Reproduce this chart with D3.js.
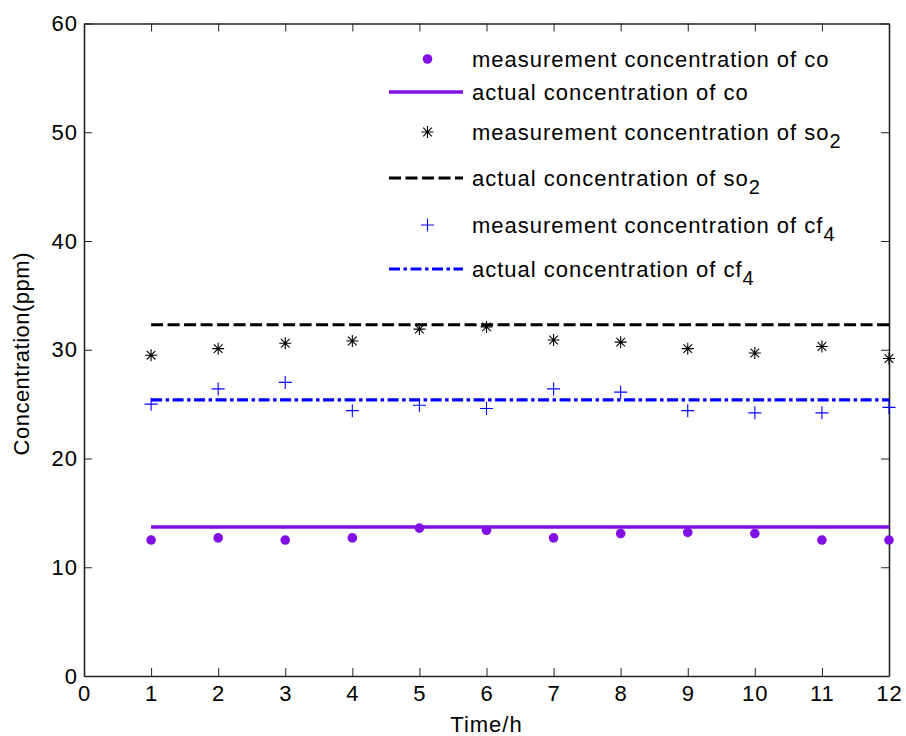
<!DOCTYPE html>
<html>
<head>
<meta charset="utf-8">
<script src="https://cdn.jsdelivr.net/npm/d3@7"></script>
<style>
  html, body { margin: 0; padding: 0; background: #fff; }
  svg { display: block; }
  text { font-family: "Liberation Sans", Arial, Helvetica, sans-serif; fill: #000; letter-spacing: 1px; }
</style>
</head>
<body>
<div id="chart"></div>
<script>
// ---------- data ----------
const hours = [1, 2, 3, 4, 5, 6, 7, 8, 9, 10, 11, 12];
const coMeasured  = [12.5, 12.7, 12.5, 12.7, 13.6, 13.4, 12.7, 13.1, 13.2, 13.1, 12.5, 12.5];
const so2Measured = [29.5, 30.1, 30.6, 30.8, 31.9, 32.1, 30.9, 30.7, 30.1, 29.7, 30.3, 29.2];
const cf4Measured = [25.0, 26.4, 27.0, 24.4, 24.9, 24.6, 26.4, 26.1, 24.4, 24.2, 24.2, 24.7];
const coActual  = [13.7, 13.7];
const so2Actual = [32.3, 32.3];
const cf4Actual = [25.4, 25.4];
const actualSpan = [1, 12];
const xTicks = [0, 1, 2, 3, 4, 5, 6, 7, 8, 9, 10, 11, 12];
const yTicks = [0, 10, 20, 30, 40, 50, 60];
const legendLabels = [
  ["measurement concentration of co", ""],
  ["actual concentration of co", ""],
  ["measurement concentration of so", "2"],
  ["actual concentration of so", "2"],
  ["measurement concentration of cf", "4"],
  ["actual concentration of cf", "4"]
];
const xLabel = "Time/h";
const yLabel = "Concentration(ppm)";

// ---------- layout ----------
const W = 906, H = 736;
const pLeft = 84, pRight = 889, pTop = 23.5, pBottom = 676;
const purple = "#8010E6", black = "#000", blue = "#0000FF";
const FS = 22;

const svg = d3.select("#chart").append("svg").attr("width", W).attr("height", H);

const x = d3.scaleLinear().domain([0, 12]).range([pLeft, pRight]);
const y = d3.scaleLinear().domain([0, 60]).range([pBottom, pTop]);

// axes (inward ticks on all sides)
function styleAxis(g) {
  g.selectAll("path.domain").attr("stroke", "#222").attr("stroke-width", 1.6);
  g.selectAll(".tick line").attr("stroke", "#222").attr("stroke-width", 1);
  g.selectAll("text").attr("font-size", FS).attr("fill", "#000")
    .style("font-family", '"Liberation Sans", Arial, sans-serif');
}
svg.append("g").attr("transform", `translate(0,${pBottom})`)
  .call(d3.axisBottom(x).tickValues(xTicks).tickSizeInner(-8).tickSizeOuter(0).tickPadding(9).tickFormat(d3.format("d")))
  .call(styleAxis);
svg.append("g").attr("transform", `translate(0,${pTop})`)
  .call(d3.axisTop(x).tickValues(xTicks).tickSizeInner(-8).tickSizeOuter(0).tickFormat(""))
  .call(styleAxis);
svg.append("g").attr("transform", `translate(${pLeft},0)`)
  .call(d3.axisLeft(y).tickValues(yTicks).tickSizeInner(-8).tickSizeOuter(0).tickPadding(6).tickFormat(d3.format("d")))
  .call(styleAxis);
svg.append("g").attr("transform", `translate(${pRight},0)`)
  .call(d3.axisRight(y).tickValues(yTicks).tickSizeInner(-8).tickSizeOuter(0).tickFormat(""))
  .call(styleAxis);

// axis labels
svg.append("text").attr("x", (pLeft + pRight) / 2).attr("y", 732)
  .attr("text-anchor", "middle").attr("font-size", FS).text(xLabel);
svg.append("text").attr("transform", `translate(29,${(pTop + pBottom) / 2 + 4}) rotate(-90)`)
  .attr("text-anchor", "middle").attr("font-size", FS).style("letter-spacing", "0.5px").text(yLabel);

// ---------- marker shapes ----------
function asteriskPath(cx, cy, r) {
  const d = r * 0.72;
  return `M${cx - r},${cy}L${cx + r},${cy}M${cx},${cy - r}L${cx},${cy + r}` +
         `M${cx - d},${cy - d}L${cx + d},${cy + d}M${cx - d},${cy + d}L${cx + d},${cy - d}`;
}
function plusPath(cx, cy, r) {
  return `M${cx - r},${cy}L${cx + r},${cy}M${cx},${cy - r}L${cx},${cy + r}`;
}

const line = d3.line().x(d => x(d[0])).y(d => y(d[1]));

// actual lines
const actualSeries = [
  { v: so2Actual, color: black, dash: "12,4.5", w: 3 },
  { v: cf4Actual, color: blue, dash: "11,3.5,3.5,3.5", w: 3.2 },
  { v: coActual, color: purple, dash: null, w: 3.4 }
];
actualSeries.forEach(s => {
  svg.append("path")
    .attr("d", line(actualSpan.map((h, i) => [h, s.v[i]])))
    .attr("fill", "none").attr("stroke", s.color).attr("stroke-width", s.w)
    .attr("stroke-dasharray", s.dash);
});

// measured points
svg.append("g").selectAll("circle").data(hours).join("circle")
  .attr("cx", (d) => x(d)).attr("cy", (d, i) => y(coMeasured[i])).attr("r", 4.8).attr("fill", purple);
svg.append("g").selectAll("path").data(hours).join("path")
  .attr("d", (d, i) => asteriskPath(x(d), y(so2Measured[i]), 6))
  .attr("stroke", black).attr("stroke-width", 1.1).attr("fill", "none");
svg.append("g").selectAll("path").data(hours).join("path")
  .attr("d", (d, i) => plusPath(x(d), y(cf4Measured[i]), 6.5))
  .attr("stroke", blue).attr("stroke-width", 1.1).attr("fill", "none");

// ---------- legend ----------
const legendRowsY = [59, 92, 132, 178, 225, 269];
const lg = svg.append("g");
const lx0 = 389, lx1 = 463, lmx = 427.5, ltx = 472;
legendRowsY.forEach((ry, i) => {
  if (i === 0) lg.append("circle").attr("cx", lmx).attr("cy", ry).attr("r", 4.8).attr("fill", purple);
  if (i === 1) lg.append("line").attr("x1", lx0).attr("x2", lx1).attr("y1", ry).attr("y2", ry)
      .attr("stroke", purple).attr("stroke-width", 3.4);
  if (i === 2) lg.append("path").attr("d", asteriskPath(lmx, ry, 6)).attr("stroke", black).attr("stroke-width", 1.1);
  if (i === 3) lg.append("line").attr("x1", lx0).attr("x2", lx1).attr("y1", ry).attr("y2", ry)
      .attr("stroke", black).attr("stroke-width", 3).attr("stroke-dasharray", "12,4.5");
  if (i === 4) lg.append("path").attr("d", plusPath(lmx, ry, 6.5)).attr("stroke", blue).attr("stroke-width", 1.1);
  if (i === 5) lg.append("line").attr("x1", lx0).attr("x2", lx1).attr("y1", ry).attr("y2", ry)
      .attr("stroke", blue).attr("stroke-width", 3.2).attr("stroke-dasharray", "11,3.5,3.5,3.5");
  const t = lg.append("text").attr("x", ltx).attr("y", ry + 7.5).attr("font-size", FS);
  t.append("tspan").text(legendLabels[i][0]);
  if (legendLabels[i][1]) t.append("tspan").attr("dy", 8).attr("font-size", 20).text(legendLabels[i][1]);
});
</script>
</body>
</html>
